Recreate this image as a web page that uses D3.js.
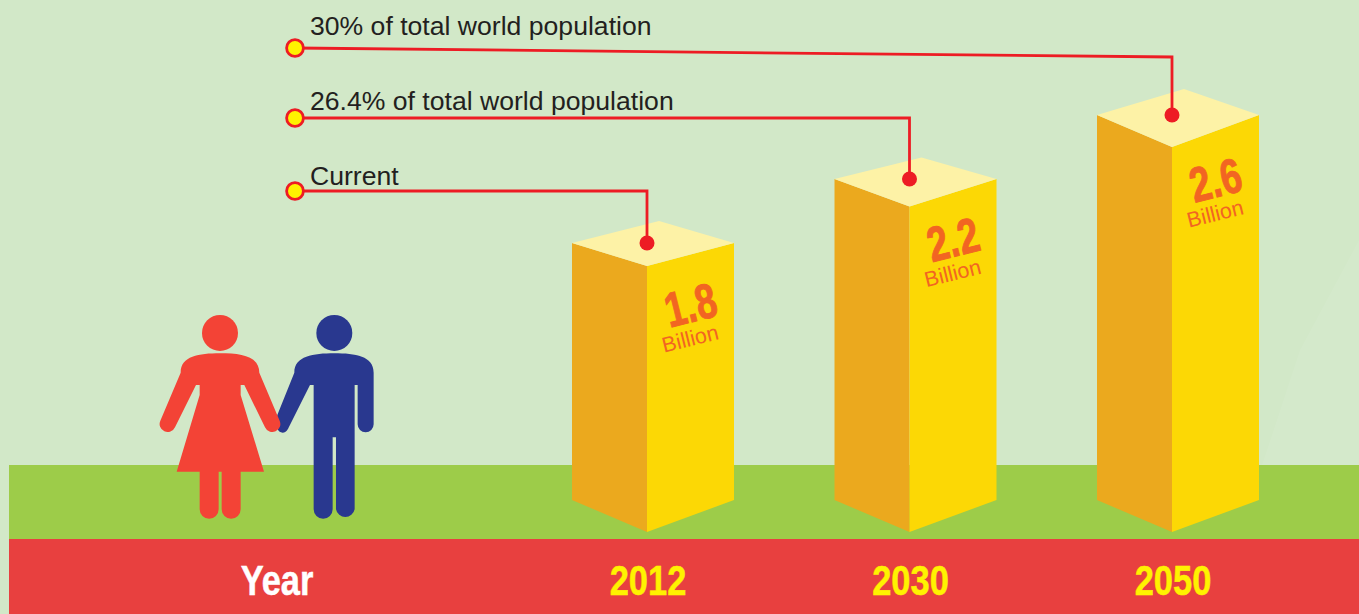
<!DOCTYPE html>
<html><head><meta charset="utf-8">
<script src="https://cdnjs.cloudflare.com/ajax/libs/d3/7.8.5/d3.min.js"></script>
<style>html,body{margin:0;padding:0;background:#D2E8C8;overflow:hidden}svg{display:block}</style>
</head><body><svg id="c" width="1359" height="614"></svg>
<script>
const years=["2012","2030","2050"];
const values=[1.8,2.2,2.6];
const valueLabels=["1.8","2.2","2.6"];
const unitLabel="Billion";
const notes=["Current","26.4% of total world population","30% of total world population"];
const axisLabel="Year";

const svg=d3.select("#c");
const x=d3.scalePoint().domain(years).range([647,1172]);
const y=d3.scaleLinear().domain([1.8,2.6]).range([266,147]);
const depth=d3.scaleLinear().domain([1.8,2.6]).range([23,32]);
const rise=d3.scaleLinear().domain([1.8,2.2,2.6]).range([45,49,58]);
const labelDrop=d3.scaleLinear().domain([1.8,2.2,2.6]).range([39,33,33]);
const W=75,E=87,BASE=532,BD=32;
const SANS="'Liberation Sans',Arial,sans-serif";

// ground & band
svg.append("path").attr("fill","#fff").attr("opacity",0.06).attr("d","M1359,240L1300,350L1262,465L1359,465Z");
svg.append("rect").attr("x",9).attr("y",465).attr("width",1350).attr("height",74).attr("fill","#9DCC49");
svg.append("rect").attr("x",9).attr("y",539).attr("width",1350).attr("height",75).attr("fill","#E8403F");

// people
const g=svg.append("g").attr("transform","translate(150,300) scale(0.3333)");
g.append("circle").attr("cx",553).attr("cy",99).attr("r",54).attr("fill","#29388F");
g.append("path").attr("fill","#29388F").attr("d","M553,160 C490,160 433,168 433,218 L382,345 C376,365 378,398 398,398 C410,398 415,385 415,385 L480,255 L491,255 L491,628 A28.5,28.5 0 0 0 548,628 L548,412 L558,412 L558,628 A28.5,28.5 0 0 0 614,628 L614,255 L623,255 L623,373 A24,24 0 0 0 671,373 L671,218 C671,168 616,160 553,160Z");
g.append("circle").attr("cx",210).attr("cy",99).attr("r",54).attr("fill","#F34336");
g.append("path").attr("fill","#F34336").attr("d","M210,160 C147,160 92,168 92,218 L31,362 A24,24 0 0 0 75,382 L138,255 L149,255 L149,285 L80,515 L149,515 L149,628 A28.5,28.5 0 0 0 206,628 L206,515 L215,515 L215,628 A28.5,28.5 0 0 0 272,628 L272,515 L342,515 L272,285 L272,255 L283,255 L345,382 A24,24 0 0 0 389,362 L328,218 C328,168 273,160 210,160Z");

// bars
const bars=svg.selectAll("g.bar").data(years).join("g").attr("class","bar");
const topY=(i)=>y(values[i]);
bars.append("path").attr("fill","#EBA91E").attr("d",(d,i)=>{const c=x(d),t=topY(i),D=depth(values[i]);return `M${c-W},${t-D}L${c},${t}L${c},${BASE}L${c-W},${BASE-BD}Z`});
bars.append("path").attr("fill","#FCD805").attr("d",(d,i)=>{const c=x(d),t=topY(i),D=depth(values[i]);return `M${c},${t}L${c+E},${t-D}L${c+E},${BASE-BD}L${c},${BASE}Z`});
bars.append("path").attr("fill","#FDF2A6").attr("d",(d,i)=>{const c=x(d),t=topY(i),D=depth(values[i]);return `M${c},${t}L${c-W},${t-D}L${c+E-W},${t-rise(values[i])}L${c+E},${t-D}Z`});

// value labels
bars.append("text").text((d,i)=>valueLabels[i])
 .attr("transform",(d,i)=>`translate(${x(d)+43.5},${topY(i)+labelDrop(values[i])}) rotate(-14) scale(0.76,1)`)
 .attr("y",17).attr("text-anchor","middle").attr("font-family",SANS).attr("font-weight",700).attr("font-size",49).attr("fill","#F26522").attr("stroke","#F26522").attr("stroke-width",0.9);
bars.append("text").text(unitLabel)
 .attr("transform",(d,i)=>`translate(${x(d)+43},${topY(i)+labelDrop(values[i])+33}) rotate(-14)`)
 .attr("y",8).attr("text-anchor","middle").attr("font-family",SANS).attr("font-size",21.5).attr("fill","#F26522");

// leaders
const startY=[191,118,48], cornerY=[191,118,57], textY=[185,110,35];
const dotY=i=>topY(i)-depth(values[i]);
const leaders=svg.selectAll("g.lead").data(years).join("g").attr("class","lead");
leaders.append("path").attr("fill","none").attr("stroke","#ED1C24").attr("stroke-width",2.8)
 .attr("d",(d,i)=>d3.line()([[295,startY[i]],[x(d),cornerY[i]],[x(d),dotY(i)]]));
leaders.append("circle").attr("cx",d=>x(d)).attr("cy",(d,i)=>dotY(i)).attr("r",7.5).attr("fill","#ED1C24");
leaders.append("circle").attr("cx",295).attr("cy",(d,i)=>startY[i]).attr("r",8.4).attr("fill","#FFF200").attr("stroke","#ED1C24").attr("stroke-width",2.8);
leaders.append("text").text((d,i)=>notes[i]).attr("x",310).attr("y",(d,i)=>textY[i])
 .attr("font-family",SANS).attr("font-size",26.6).attr("fill","#231F20");

// band labels
svg.append("text").text(axisLabel).attr("transform","translate(277,595) scale(0.82,1)").attr("text-anchor","middle").attr("font-family",SANS).attr("font-weight",700).attr("font-size",42).attr("fill","#fff").attr("stroke","#fff").attr("stroke-width",0.5);
svg.selectAll("text.yr").data(years).join("text").attr("class","yr").text(d=>d)
 .attr("transform",d=>`translate(${x(d)+1},595) scale(0.82,1)`).attr("text-anchor","middle").attr("font-family",SANS).attr("font-weight",700).attr("font-size",42).attr("fill","#FFF200").attr("stroke","#FFF200").attr("stroke-width",0.5);
</script></body></html>
